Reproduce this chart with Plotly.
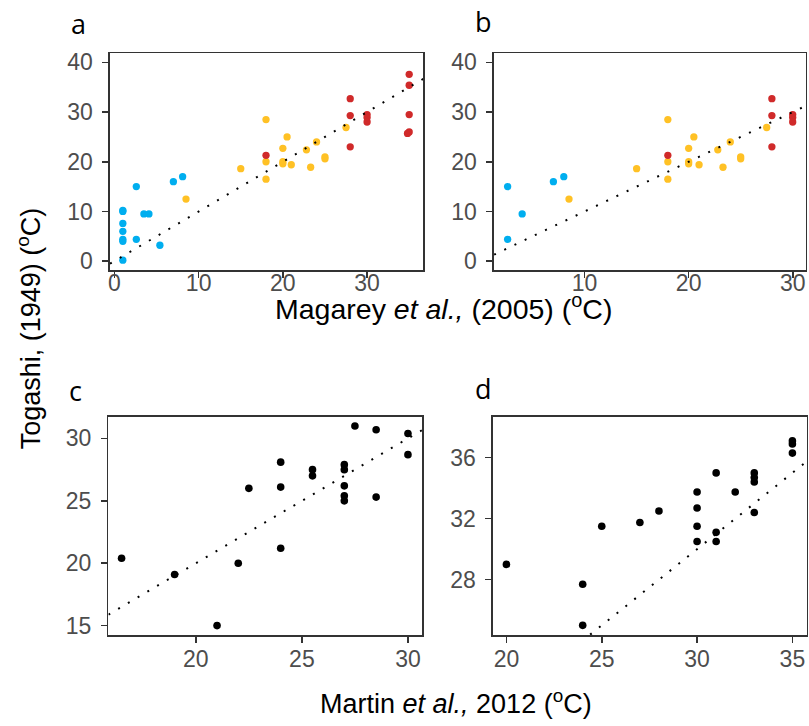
import plotly.graph_objects as go

# ---------------- data ----------------
# Panel a (Magarey vs Togashi, all)
a_blue_x = [1, 1, 1, 1, 1, 1, 1, 2.6, 2.6, 3.5, 4.1, 5.4, 7, 8.1]
a_blue_y = [0.2, 4.0, 4.4, 6.0, 7.6, 10.0, 10.2, 15.0, 4.4, 9.5, 9.5, 3.2, 16.0, 17.0]
a_yel_x = [8.5, 15, 18, 18, 18, 20, 20, 20, 20.5, 21, 22.8, 23.3, 24, 25, 25, 27.5]
a_yel_y = [12.5, 18.6, 28.5, 20.0, 16.5, 22.7, 19.6, 20.0, 25.0, 19.4, 22.4, 18.9, 24.0, 21.0, 20.6, 26.9]
a_red_x = [18, 28, 28, 28, 30, 30, 30, 35, 35, 35, 34.8, 35]
a_red_y = [21.3, 32.7, 29.3, 23.0, 29.5, 28.9, 28.0, 37.6, 35.4, 29.5, 25.7, 26.0]

# Panel b (subset)
b_blue_x = [2.6, 2.6, 4, 7, 8]
b_blue_y = [15.0, 4.4, 9.5, 16.0, 17.0]
b_yel_x = [8.5, 15, 18, 18, 18, 20, 20, 20, 20.5, 21, 22.8, 23.3, 24, 25, 25, 27.5]
b_yel_y = [12.5, 18.6, 28.5, 20.0, 16.5, 22.7, 19.6, 20.0, 25.0, 19.4, 22.4, 18.9, 24.0, 21.0, 20.6, 26.9]
b_red_x = [18, 28, 28, 28, 30, 30, 30]
b_red_y = [21.3, 32.7, 29.3, 23.0, 29.5, 28.9, 28.0]

# Panel c (Martin vs Togashi)
c_x = [16.5, 19, 21, 22, 22.5, 24, 24, 24, 25.5, 25.5, 27, 27, 27, 27, 27, 27.5, 28.5, 28.5, 30, 30]
c_y = [20.4, 19.1, 15.0, 20.0, 26.0, 28.1, 26.1, 21.2, 27.5, 27.0, 27.9, 27.5, 26.2, 25.4, 25.0, 31.0, 30.7, 25.3, 30.4, 28.7]

# Panel d
d_x = [20, 24, 24, 25, 27, 28, 30, 30, 30, 30, 31, 31, 31, 32, 33, 33, 33, 33, 35, 35, 35]
d_y = [29.0, 27.7, 25.0, 31.5, 31.75, 32.5, 33.75, 32.7, 31.5, 30.5, 35.0, 31.1, 30.5, 33.75, 35.0, 34.7, 34.4, 32.4, 37.1, 36.9, 36.3]

# axis ranges and ticks
a_xrange, a_yrange = [-0.52, 36.67], [-1.85, 41.8]
b_xrange, b_yrange = [1.30, 31.25], [-1.85, 41.8]
c_xrange, c_yrange = [15.88, 30.66], [14.25, 31.71]
d_xrange, d_yrange = [19.30, 35.75], [24.37, 38.66]
a_xticks, ab_yticks = [0, 10, 20, 30], [0, 10, 20, 30, 40]
b_xticks = [10, 20, 30]
c_xticks, c_yticks = [20, 25, 30], [15, 20, 25, 30]
d_xticks, d_yticks = [20, 25, 30, 35], [28, 32, 36]

BLUE, YEL, RED, BLK = "#00AEEF", "#FFC125", "#D02A2A", "#000000"

W, H = 809, 726
def px(x):
    return x / W
def py(y):
    return 1 - y / H

fig = go.Figure()

def pts(x, y, color, xa, ya, size=7.5):
    fig.add_trace(go.Scatter(x=x, y=y, mode="markers", xaxis=xa, yaxis=ya,
                             marker=dict(color=color, size=size, line=dict(width=0)),
                             showlegend=False, hoverinfo="skip"))

def one2one(rng, xa, ya):
    fig.add_trace(go.Scatter(x=rng, y=rng, mode="lines", xaxis=xa, yaxis=ya,
                             line=dict(color="black", width=2, dash="2px,9.3px"),
                             showlegend=False, hoverinfo="skip"))

pts(a_blue_x, a_blue_y, BLUE, "x", "y", 7.3)
pts(a_yel_x, a_yel_y, YEL, "x", "y", 7.3)
pts(a_red_x, a_red_y, RED, "x", "y", 7.3)
one2one(a_xrange, "x", "y")

pts(b_blue_x, b_blue_y, BLUE, "x2", "y2", 7.3)
pts(b_yel_x, b_yel_y, YEL, "x2", "y2", 7.3)
pts(b_red_x, b_red_y, RED, "x2", "y2", 7.3)
one2one(b_xrange, "x2", "y2")

pts(c_x, c_y, BLK, "x3", "y3", 7.6)
one2one(c_xrange, "x3", "y3")

pts(d_x, d_y, BLK, "x4", "y4", 7.6)
one2one(d_xrange, "x4", "y4")

tickfont = dict(family="Liberation Sans, Arial, sans-serif", size=23, color="#4D4D4D")
common = dict(showline=True, mirror=True, linecolor="#333333", linewidth=1.6,
              ticks="outside", ticklen=6, tickwidth=1.6, tickcolor="#333333",
              showgrid=False, zeroline=False, tickfont=tickfont, fixedrange=True)

def xax(dom, rng, ticks, anchor, standoff):
    return dict(domain=dom, range=rng, tickvals=ticks, anchor=anchor,
                ticklabelstandoff=standoff, **common)

def yax(dom, rng, ticks, anchor):
    return dict(domain=dom, range=rng, tickvals=ticks, anchor=anchor,
                ticklabelstandoff=5, **common)

top_dom = [py(269.3), py(50)]
bot_dom = [py(638), py(417.7)]

fig.update_layout(
    width=W, height=H,
    margin=dict(l=0, r=0, t=0, b=0),
    paper_bgcolor="white", plot_bgcolor="white",
    xaxis=xax([px(108.3), px(422.3)], a_xrange, a_xticks, "y", -15),
    yaxis=yax(top_dom, a_yrange, ab_yticks, "x"),
    xaxis2=xax([px(493.3), px(805.7)], b_xrange, b_xticks, "y2", -15),
    yaxis2=yax(top_dom, b_yrange, ab_yticks, "x2"),
    xaxis3=xax([px(106.7), px(421)], c_xrange, c_xticks, "y3", -3),
    yaxis3=yax(bot_dom, c_yrange, c_yticks, "x3"),
    xaxis4=xax([px(492.3), px(806.7)], d_xrange, d_xticks, "y4", -3),
    yaxis4=yax(bot_dom, d_yrange, d_yticks, "x4"),
)

title_font = dict(family="Liberation Sans, Arial, sans-serif", size=27, color="black")
title_font_top = dict(family="Liberation Sans, Arial, sans-serif", size=28.5, color="black")
letter_font = dict(family="Open Sans, Noto Sans, sans-serif", size=27, color="black")

annotations = [
    dict(text="a", x=px(77), y=py(20), font=letter_font),
    dict(text="b", x=px(483), y=py(18), font=letter_font),
    dict(text="c", x=px(74), y=py(391), font=letter_font),
    dict(text="d", x=px(483), y=py(389), font=letter_font),
    dict(text="Magarey <i>et al.,</i> (2005) (<sup>o</sup>C)", x=px(443), y=py(306), font=title_font_top),
    dict(text="Martin <i>et al.,</i> 2012 (<sup>o</sup>C)", x=px(455), y=py(706), font=title_font),
    dict(text="Togashi, (1949) (<sup>o</sup>C)", x=px(27), y=py(328), textangle=-90, font=title_font),
]
for a in annotations:
    a.update(xref="paper", yref="paper", showarrow=False, xanchor="center", yanchor="middle")
fig.update_layout(annotations=annotations)

fig.write_html("out.html", config={"displayModeBar": False, "staticPlot": True},
               post_script="document.body.style.margin='0';document.body.style.padding='0';")
